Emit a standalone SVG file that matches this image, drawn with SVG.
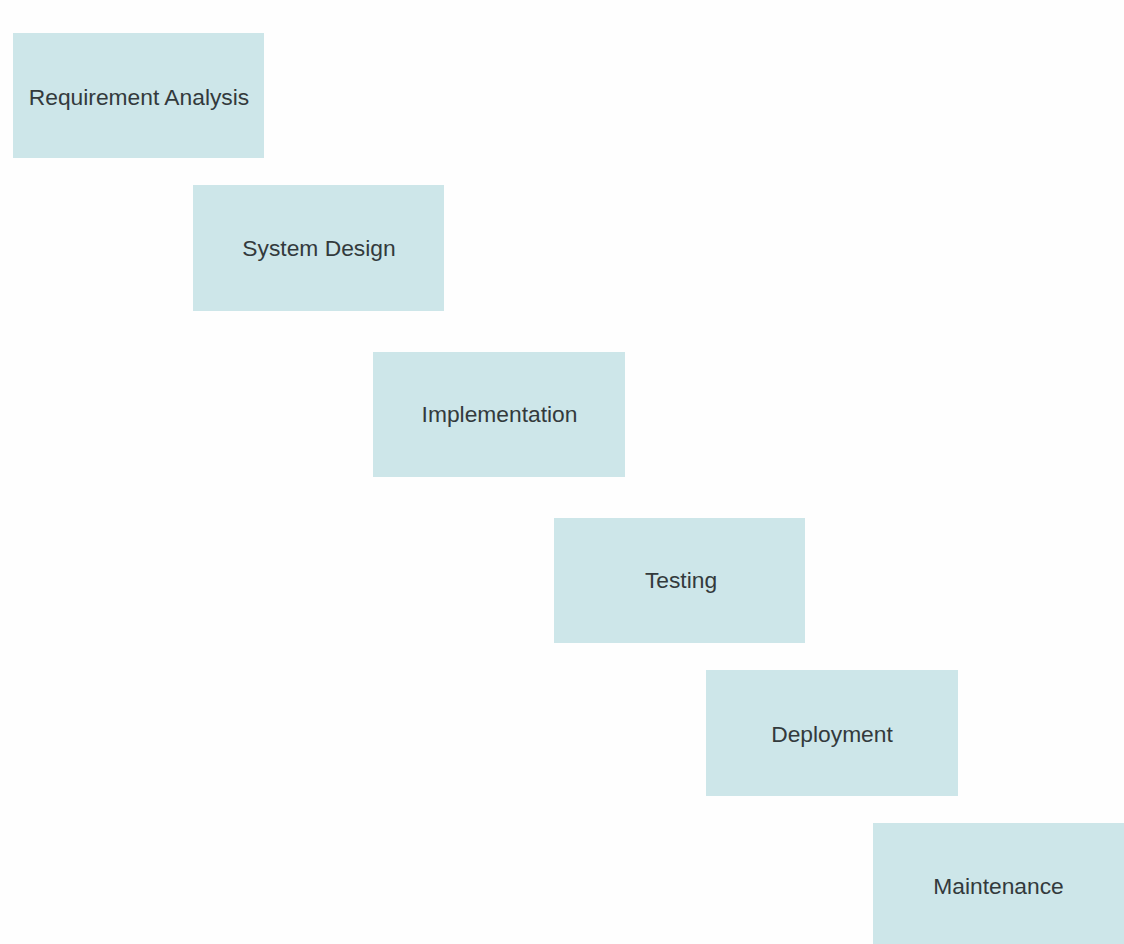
<svg xmlns="http://www.w3.org/2000/svg" width="1124" height="944" viewBox="0 0 1124 944">
<style>
.box{fill:#cde6e9;}
.lbl{font-family:"Liberation Sans",Arial,sans-serif;font-size:22.8px;fill:#333a3c;text-anchor:middle;dominant-baseline:central;}
</style>
<rect width="1124" height="944" fill="#fefefe"/>
<g id="connectors"></g>
<g id="node-requirement">
<rect class="box" x="13" y="33" width="251" height="125"/>
<text class="lbl" x="139" y="97">Requirement Analysis</text>
</g>
<g id="node-design">
<rect class="box" x="193" y="185" width="251" height="126"/>
<text class="lbl" x="319" y="248">System Design</text>
</g>
<g id="node-implementation">
<rect class="box" x="373" y="352" width="252" height="125"/>
<text class="lbl" x="499.5" y="414">Implementation</text>
</g>
<g id="node-testing">
<rect class="box" x="554" y="518" width="251" height="125"/>
<text class="lbl" x="681" y="580">Testing</text>
</g>
<g id="node-deployment">
<rect class="box" x="706" y="670" width="252" height="126"/>
<text class="lbl" x="832" y="734">Deployment</text>
</g>
<g id="node-maintenance">
<rect class="box" x="873" y="823" width="251" height="121"/>
<text class="lbl" x="998.5" y="886">Maintenance</text>
</g>
</svg>
